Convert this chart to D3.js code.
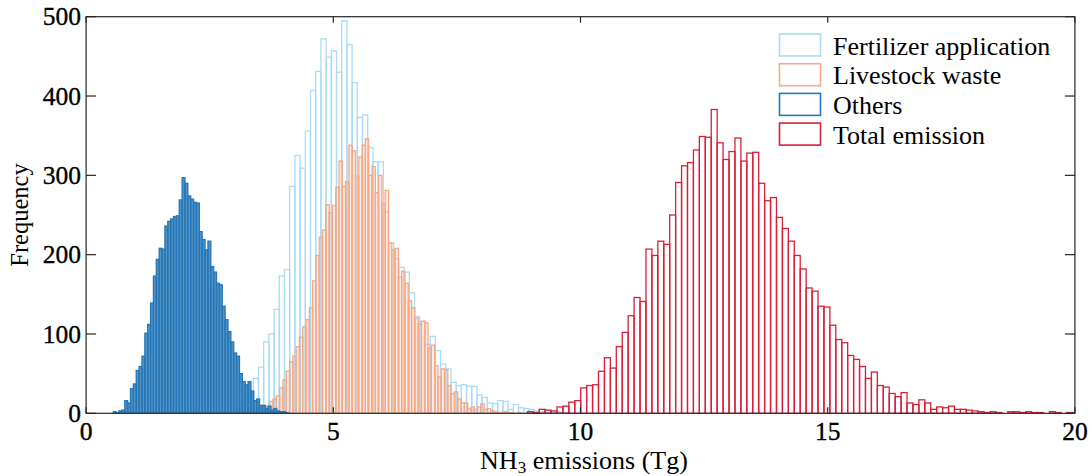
<!DOCTYPE html>
<html>
<head>
<meta charset="utf-8">
<script src="https://cdn.jsdelivr.net/npm/d3@7"></script>
<style>
  body { margin: 0; background: #fff; }
  svg { display: block; }
</style>
</head>
<body>
<svg id="chart" width="1092" height="476"></svg>
<script>
// ---------------- DATA ----------------
const seriesNames = ["Fertilizer application", "Livestock waste", "Others", "Total emission"];

// bin start (Tg) and bin width (Tg) per series
const fertilizerStart = 2.961, fertilizerBinWidth = 0.1052;
const livestockStart = 3.048, livestockBinWidth = 0.0667;
const othersStart = 0.55, othersBinWidth = 0.058;
const totalStart = 8.924, totalBinWidth = 0.12;

const fertilizerCounts = [3, 5, 21, 25, 44, 58, 90, 100, 131, 173, 181, 286, 325, 309, 356, 407, 431, 472, 449, 457,
  430, 495, 465, 417, 373, 376, 335, 317, 317, 254, 215, 195, 184, 178, 152, 122, 116, 87, 97, 79,
  62, 56, 39, 35, 36, 34, 34, 23, 20, 13, 12, 16, 15, 5, 11, 7, 6, 5, 3, 2, 3, 1, 2, 1, 1];

const livestockCounts = [1, 1, 1, 2, 2,
  3, 4, 6, 8, 9, 15, 18, 22, 32, 42, 53, 65, 72, 84, 96, 109, 118, 133,
  167, 199, 222, 231, 263, 253, 262, 285, 318, 286, 292, 338, 331, 299, 323, 338, 346, 300, 311, 278, 300, 264, 281, 215, 206, 208, 172, 179, 164,
  142, 133, 120, 113, 116, 114, 82, 86, 60, 46, 56, 55, 35, 25, 27, 18, 13, 13, 6, 8, 5, 8, 12, 5, 6, 3, 2, 1, 1, 2, 1, 1, 0, 1];

const othersCounts = [2, 1, 3, 4, 16, 13, 31, 37, 54, 59, 72, 101, 112, 139, 173, 194, 208, 207, 236, 242,
  245, 248, 249, 269, 297, 290, 274, 270, 266, 265, 229, 219, 206, 217, 185, 178, 164, 162, 135, 118,
  103, 90, 76, 72, 50, 40, 36, 40, 28, 16, 18, 10, 10, 6, 9, 4, 6, 3, 2, 2, 1];

const totalCounts = [2, 1, 5, 4, 3, 8, 9, 14, 16, 32, 35, 36, 53, 70, 57, 84, 102, 123, 146, 141,
  207, 199, 217, 213, 250, 291, 312, 316, 332, 349, 348, 383, 341, 320, 330, 347, 318, 328, 329, 290,
  268, 272, 247, 233, 217, 199, 182, 158, 154, 135, 134, 111, 93, 89, 73, 68, 59, 44, 52, 35,
  33, 25, 21, 26, 13, 11, 17, 13, 5, 8, 7, 9, 5, 5, 4, 3, 2, 1, 2, 1,
  0, 2, 2, 1, 2, 1, 1, 0, 2, 1, 0, 1];

const xTicks = [0, 5, 10, 15, 20];
const yTicks = [0, 100, 200, 300, 400, 500];
const xLabel = "emissions (Tg)";
const yLabel = "Frequency";

// ---------------- STYLE / LAYOUT ----------------
const colors = ["#aadcf6", "#f5a987", "#2677b7", "#d6203a"];
const fillOpacity = [0, 0.22, 0.8, 0];
const font = "'Liberation Serif', 'Times New Roman', serif";
const pL = 86.1, pR = 1074.9, pT = 16.7, pB = 413.3;

const svg = d3.select("#chart");
svg.append("rect").attr("width", 1092).attr("height", 476).attr("fill", "#fff");

const x = d3.scaleLinear().domain([0, 20]).range([pL, pR]);
const y = d3.scaleLinear().domain([0, 500]).range([pB, pT]);

svg.append("clipPath").attr("id", "plotclip")
  .append("rect").attr("x", pL).attr("y", pT - 2).attr("width", pR - pL).attr("height", pB - pT + 2);

const series = [
  { counts: fertilizerCounts, start: fertilizerStart, bw: fertilizerBinWidth },
  { counts: livestockCounts, start: livestockStart, bw: livestockBinWidth },
  { counts: othersCounts, start: othersStart, bw: othersBinWidth },
  { counts: totalCounts, start: totalStart, bw: totalBinWidth }
];

const plot = svg.append("g").attr("clip-path", "url(#plotclip)");
series.forEach((s, si) => {
  const bins = s.counts.map((c, i) => ({ x0: s.start + i * s.bw, x1: s.start + (i + 1) * s.bw, c }));
  plot.append("g").selectAll("rect").data(bins).join("rect")
    .attr("x", d => x(d.x0))
    .attr("width", d => x(d.x1) - x(d.x0))
    .attr("y", d => y(d.c))
    .attr("height", d => y(0) - y(d.c))
    .attr("fill", colors[si])
    .attr("fill-opacity", fillOpacity[si])
    .attr("stroke", colors[si])
    .attr("stroke-width", 1.3);
});

// axes box
const axisColor = "#262626";
svg.append("rect").attr("x", pL).attr("y", pT).attr("width", pR - pL).attr("height", pB - pT)
  .attr("fill", "none").attr("stroke", axisColor).attr("stroke-width", 1.2);

// ticks
const tg = svg.append("g").attr("stroke", axisColor).attr("stroke-width", 1.2);
xTicks.forEach(t => {
  tg.append("line").attr("x1", x(t)).attr("x2", x(t)).attr("y1", pB).attr("y2", pB - 6);
  tg.append("line").attr("x1", x(t)).attr("x2", x(t)).attr("y1", pT).attr("y2", pT + 6);
});
yTicks.forEach(t => {
  tg.append("line").attr("x1", pL).attr("x2", pL + 10).attr("y1", y(t)).attr("y2", y(t));
  tg.append("line").attr("x1", pR).attr("x2", pR - 10).attr("y1", y(t)).attr("y2", y(t));
});

// tick labels
svg.append("g").selectAll("text").data(xTicks).join("text")
  .attr("x", d => x(d)).attr("y", 440)
  .attr("text-anchor", "middle")
  .attr("font-family", font).attr("font-size", 25.5).attr("fill", "#000")
  .attr("stroke", "#000").attr("stroke-width", 0.35)
  .text(d => d);
svg.append("g").selectAll("text").data(yTicks).join("text")
  .attr("x", 81).attr("y", d => y(d)).attr("dy", "0.34em")
  .attr("text-anchor", "end")
  .attr("font-family", font).attr("font-size", 25.5).attr("fill", "#000")
  .attr("stroke", "#000").attr("stroke-width", 0.35)
  .text(d => d);

// axis labels
const xl = svg.append("text")
  .attr("x", 584).attr("y", 469)
  .attr("text-anchor", "middle")
  .attr("font-family", font).attr("font-size", 26).attr("fill", "#000");
xl.append("tspan").text("NH");
xl.append("tspan").attr("font-size", 17).attr("dy", 4).text("3");
xl.append("tspan").attr("dy", -4).text(" " + xLabel);

svg.append("text")
  .attr("transform", `translate(28, ${(pT + pB) / 2}) rotate(-90)`)
  .attr("text-anchor", "middle")
  .attr("font-family", font).attr("font-size", 24.5).attr("fill", "#000")
  .text(yLabel);

// legend
const lg = svg.append("g");
seriesNames.forEach((name, i) => {
  const cy = 45 + i * 29.7;
  lg.append("rect").attr("x", 779.5).attr("y", cy - 11).attr("width", 41).attr("height", 22)
    .attr("fill", "#fff").attr("stroke", colors[i]).attr("stroke-width", 1.6);
  lg.append("text").attr("x", 833).attr("y", cy + 9.5)
    .attr("font-family", font).attr("font-size", 26).attr("fill", "#000")
    .text(name);
});
</script>
</body>
</html>
